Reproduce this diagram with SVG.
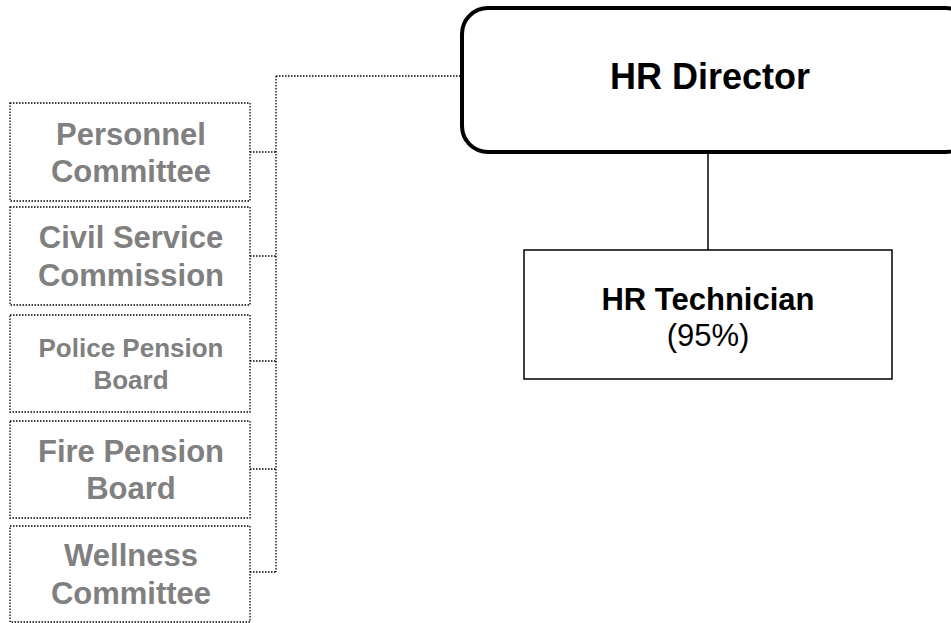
<svg xmlns="http://www.w3.org/2000/svg" width="951" height="623" viewBox="0 0 951 623">
<style>
.board{fill:#fff;stroke:#000;stroke-width:1.3;stroke-dasharray:1.5 1.5}
.gl{font-family:"Liberation Sans",Arial,sans-serif;font-weight:bold;fill:#808080;text-anchor:middle;font-size:31px}
.sm{font-size:26px}
.dot{fill:none;stroke:#000;stroke-width:1.3;stroke-dasharray:1.5 1.5}
.solid{fill:none;stroke:#000;stroke-width:1.5}
.bk{font-family:"Liberation Sans",Arial,sans-serif;fill:#000;text-anchor:middle}
</style>
<rect width="951" height="623" fill="#fff"/>
<g id="connectors">
<path class="dot" d="M276,76 H462 M276,76 V572 M250,152 H276 M250,256 H276 M250,361 H276 M250,469 H276 M250,572 H276"/>
<path class="solid" d="M708,152 V250"/>
</g>
<g id="hr-director">
<rect x="462" y="8" width="510" height="144" rx="26" ry="26" fill="#fff" stroke="#000" stroke-width="4"/>
<text class="bk" x="710" y="89" font-size="36" font-weight="bold">HR Director</text>
</g>
<g id="hr-technician">
<rect x="524" y="250" width="368" height="129" fill="#fff" stroke="#000" stroke-width="1.5"/>
<text class="bk" x="708" y="310" font-size="31" font-weight="bold">HR Technician</text>
<text class="bk" x="708" y="346" font-size="31">(95%)</text>
</g>
<g id="personnel-committee">
<rect class="board" x="10" y="103" width="240" height="98"/>
<text class="gl" x="131" y="145">Personnel</text>
<text class="gl" x="131" y="182">Committee</text>
</g>
<g id="civil-service-commission">
<rect class="board" x="10" y="207" width="240" height="98"/>
<text class="gl" x="131" y="248">Civil Service</text>
<text class="gl" x="131" y="286">Commission</text>
</g>
<g id="police-pension-board">
<rect class="board" x="10" y="315" width="240" height="97"/>
<text class="gl sm" x="131" y="357">Police Pension</text>
<text class="gl sm" x="131" y="389">Board</text>
</g>
<g id="fire-pension-board">
<rect class="board" x="10" y="421" width="240" height="97"/>
<text class="gl" x="131" y="462">Fire Pension</text>
<text class="gl" x="131" y="499">Board</text>
</g>
<g id="wellness-committee">
<rect class="board" x="10" y="526" width="240" height="96"/>
<text class="gl" x="131" y="566">Wellness</text>
<text class="gl" x="131" y="604">Committee</text>
</g>
</svg>
